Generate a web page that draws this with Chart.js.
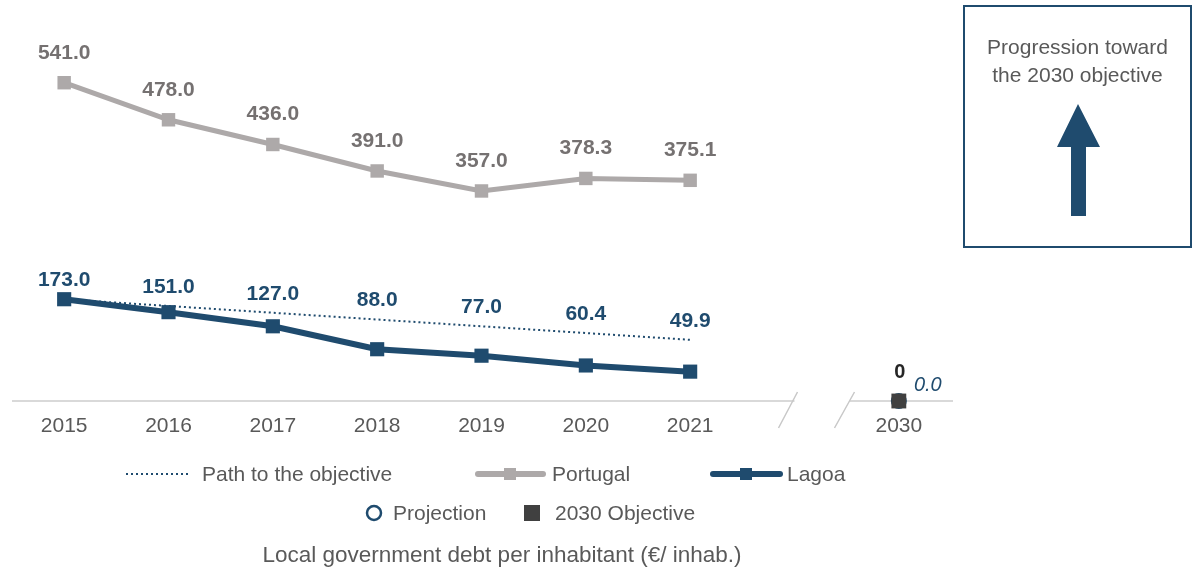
<!DOCTYPE html>
<html><head><meta charset="utf-8">
<script src="https://cdn.jsdelivr.net/npm/chart.js@4/dist/chart.umd.min.js"></script>
<style>
html,body{margin:0;padding:0;background:#fff;width:1192px;height:575px;overflow:hidden;font-family:"Liberation Sans",Arial,sans-serif;}
#wrap{position:absolute;left:0;top:0;width:963px;height:460px;}
.t{position:absolute;color:#595959;font-size:21px;line-height:24px;white-space:nowrap;}
svg{position:absolute;left:0;top:0;pointer-events:none;}
</style></head><body>
<div id="wrap"><canvas id="c"></canvas></div>
<svg width="1192" height="575">
  <rect x="964" y="6" width="227" height="241" fill="none" stroke="#1f4b6e" stroke-width="2"/>
  <polygon points="1078,104 1100,147 1086,147 1086,216 1071,216 1071,147 1057,147" fill="#1f4b6e"/>
  <line x1="126" y1="474" x2="190" y2="474" stroke="#1f4b6e" stroke-width="2" stroke-dasharray="2 3"/>
  <line x1="478" y1="474" x2="543" y2="474" stroke="#ADA9A9" stroke-width="6" stroke-linecap="round"/>
  <rect x="504" y="468" width="12" height="12" fill="#ADA9A9"/>
  <line x1="713" y1="474" x2="780" y2="474" stroke="#1f4b6e" stroke-width="6" stroke-linecap="round"/>
  <rect x="740" y="468" width="12" height="12" fill="#1f4b6e"/>
  <circle cx="374" cy="513" r="7" fill="none" stroke="#1f4b6e" stroke-width="2.5"/>
  <rect x="524" y="505" width="16" height="16" fill="#404040"/>
</svg>
<div class="t" style="left:964px;top:33px;width:227px;text-align:center;line-height:28px;">Progression toward<br>the 2030 objective</div>
<div class="t" style="left:202px;top:462px">Path to the objective</div>
<div class="t" style="left:552px;top:462px">Portugal</div>
<div class="t" style="left:787px;top:462px">Lagoa</div>
<div class="t" style="left:393px;top:501px">Projection</div>
<div class="t" style="left:555px;top:501px">2030 Objective</div>
<div class="t" style="left:0;top:543px;width:1004px;text-align:center;font-size:22.5px">Local government debt per inhabitant (€/ inhab.)</div>
<script>
const years = ["2015","2016","2017","2018","2019","2020","2021","","2030"];
const portugal = [541.0,478.0,436.0,391.0,357.0,378.3,375.1,null,null];
const lagoa = [173.0,151.0,127.0,88.0,77.0,60.4,49.9,null,null];
const pathToObjective = [173.0,161.5,150.0,138.5,127.0,115.5,104.0,null,null];
const objective2030 = [null,null,null,null,null,null,null,null,0];
const projection2030 = [null,null,null,null,null,null,null,null,0];

const BLUE = '#1f4b6e', GREY = '#ADA9A9', GREYTXT = '#757171';

const axisPlugin = {
  id: 'brokenAxis',
  beforeDatasetsDraw(chart) {
    const ctx = chart.ctx, xs = chart.scales.x, ys = chart.scales.y;
    const y0 = ys.getPixelForValue(0);
    const gap = xs.getPixelForValue(7);
    ctx.save();
    ctx.strokeStyle = '#d9d9d9'; ctx.lineWidth = 2;
    ctx.beginPath();
    ctx.moveTo(chart.chartArea.left, y0); ctx.lineTo(gap, y0);
    ctx.moveTo(gap + 55, y0); ctx.lineTo(chart.chartArea.right + 2, y0);
    ctx.stroke();
    ctx.strokeStyle = '#c8c8c8'; ctx.lineWidth = 1.5;
    ctx.beginPath();
    ctx.moveTo(gap + 3, y0 - 9); ctx.lineTo(gap - 16, y0 + 27);
    ctx.moveTo(gap + 60, y0 - 9); ctx.lineTo(gap + 40, y0 + 27);
    ctx.stroke();
    ctx.restore();
  }
};

const labelPlugin = {
  id: 'valueLabels',
  afterDatasetsDraw(chart) {
    const ctx = chart.ctx;
    ctx.save();
    ctx.textAlign = 'center'; ctx.textBaseline = 'middle';
    ctx.font = 'bold 21px "Liberation Sans", Arial, sans-serif';
    ctx.fillStyle = GREYTXT;
    chart.getDatasetMeta(3).data.forEach((p, i) => {
      if (portugal[i] == null) return;
      ctx.fillText(portugal[i].toFixed(1), p.x, p.y - 30);
    });
    ctx.fillStyle = BLUE;
    const pathMeta = chart.getDatasetMeta(2).data;
    chart.getDatasetMeta(1).data.forEach((p, i) => {
      if (lagoa[i] == null) return;
      ctx.fillText(lagoa[i].toFixed(1), p.x, pathMeta[i].y - 19);
    });
    const o = chart.getDatasetMeta(0).data[8];
    ctx.fillStyle = '#262626';
    ctx.font = 'bold 20px "Liberation Sans", Arial, sans-serif';
    ctx.fillText(String(objective2030[8]), o.x + 1, o.y - 29);
    const pr = chart.getDatasetMeta(4).data[8];
    ctx.fillStyle = BLUE;
    ctx.font = 'italic 20px "Liberation Sans", Arial, sans-serif';
    ctx.fillText(projection2030[8].toFixed(1), pr.x + 29, pr.y - 16);
    ctx.restore();
  }
};

new Chart(document.getElementById('c'), {
  type: 'line',
  data: {
    labels: years,
    datasets: [
      { label: '2030 Objective', data: objective2030, showLine: false, pointStyle: 'rect', pointRadius: 10.5, pointBackgroundColor: '#404040', pointBorderWidth: 0, clip: false },
      { label: 'Lagoa', data: lagoa, borderColor: BLUE, borderWidth: 6, pointStyle: 'rect', pointRadius: 10, pointBackgroundColor: BLUE, pointBorderWidth: 0, clip: false },
      { label: 'Path to the objective', data: pathToObjective, borderColor: BLUE, borderWidth: 2, borderDash: [2, 3], pointRadius: 0, clip: false },
      { label: 'Portugal', data: portugal, borderColor: GREY, borderWidth: 5, pointStyle: 'rect', pointRadius: 9.5, pointBackgroundColor: GREY, pointBorderWidth: 0, clip: false },
      { label: 'Projection', data: projection2030, showLine: false, pointStyle: 'circle', pointRadius: 7, pointBackgroundColor: '#ffffff', pointBorderColor: BLUE, pointBorderWidth: 2, clip: false }
    ]
  },
  options: {
    responsive: true, maintainAspectRatio: false, animation: false, devicePixelRatio: 1,
    layout: { padding: { left: 12, right: 12, top: 48, bottom: 0 } },
    plugins: { legend: { display: false }, tooltip: { enabled: false } },
    scales: {
      x: {
        offset: true,
        grid: { display: false, drawTicks: false },
        border: { display: false },
        ticks: { color: '#595959', font: { size: 21, family: '"Liberation Sans", Arial, sans-serif' }, padding: 13, autoSkip: false, maxRotation: 0 },
        afterFit: s => { s.height = 59; }
      },
      y: { display: false, min: 0, max: 600 }
    }
  },
  plugins: [axisPlugin, labelPlugin]
});
</script>
</body></html>
